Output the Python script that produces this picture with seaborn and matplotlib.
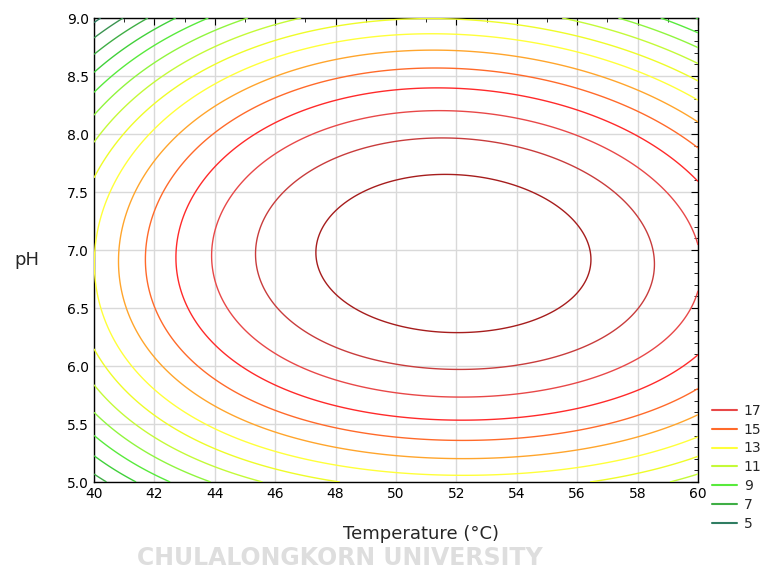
import numpy as np
import matplotlib
matplotlib.use("Agg")
import matplotlib.pyplot as plt
import seaborn as sns
from matplotlib.lines import Line2D
from matplotlib.ticker import MultipleLocator, FormatStrFormatter

# fitted response surface, coded units u = (T - 50) / 10, v = (pH - 7) / 2
terms = ["1", "u", "v", "u2", "uv", "v2", "u3", "u2v", "uv2", "v3", "u4", "v4"]
coefs = [19.7300, 1.5617, -0.1541, -4.3436, -0.1830, -7.4842,
         0.4718, -0.8521, -0.2261, -0.1029, -0.3907, -0.0947]

temp_range = [40, 60]
ph_range = [5, 9]
contour_levels = list(range(5, 20))
legend_levels = [17, 15, 13, 11, 9, 7, 5]

line_colors = ["#2f7d62", "#3a9350", "#3fae45", "#40d03a", "#58ea3c", "#90f53e", "#c4fa38",
               "#eefc28", "#ffff3a", "#ffa52c", "#ff6a2a", "#ff2a2a", "#e84848", "#c83c3c", "#a61d1d"]


def response(t, p):
    u = (t - 50) / 10
    v = (p - 7) / 2
    cols = {"1": np.ones_like(u), "u": u, "v": v, "u2": u ** 2, "uv": u * v, "v2": v ** 2,
            "u3": u ** 3, "u2v": u ** 2 * v, "uv2": u * v ** 2, "v3": v ** 3,
            "u4": u ** 4, "v4": v ** 4}
    return sum(c * cols[n] for n, c in zip(terms, coefs))


temp = np.linspace(temp_range[0], temp_range[1], 201)
ph = np.linspace(ph_range[0], ph_range[1], 201)
TT, PP = np.meshgrid(temp, ph)
ZZ = response(TT, PP)

sns.set_style("white")
plt.rcParams["font.family"] = ["DejaVu Sans"]

fig = plt.figure(figsize=(7.63, 5.71), dpi=100)
ax = fig.add_axes([94 / 763, 1 - 482 / 571, 604 / 763, 464 / 571])

ax.contour(TT, PP, ZZ, levels=contour_levels, colors=line_colors, linewidths=1.0, zorder=3)

ax.set_xlim(*temp_range)
ax.set_ylim(*ph_range)
ax.xaxis.set_major_locator(MultipleLocator(2))
ax.xaxis.set_minor_locator(MultipleLocator(1))
ax.yaxis.set_major_locator(MultipleLocator(0.5))
ax.yaxis.set_minor_locator(MultipleLocator(0.1))
ax.yaxis.set_major_formatter(FormatStrFormatter("%.1f"))
ax.grid(True, which="major", color="#d9d9d9", linewidth=1.0, zorder=0)
ax.tick_params(which="both", direction="in", top=True, right=True, labelsize=10, colors="black")
ax.tick_params(which="major", length=5)
ax.tick_params(which="minor", length=3)
for s in ax.spines.values():
    s.set_color("black")
    s.set_linewidth(1.0)

ax.set_xlabel("Temperature (°C)", fontsize=13)
ax.set_ylabel("pH", fontsize=13, rotation=0, va="center", ha="center")
ax.xaxis.set_label_coords(0.541, -0.093)
ax.yaxis.set_label_coords(-0.111, 0.478)

handles = [Line2D([], [], color=line_colors[contour_levels.index(l)], linewidth=1.5) for l in legend_levels]
fig.legend(handles, [str(l) for l in legend_levels], loc="upper left",
           bbox_to_anchor=(0.933, 0.293), frameon=False, fontsize=10,
           handlelength=1.8, handletextpad=0.5, labelspacing=0.35, borderpad=0, borderaxespad=0)

# faded watermark along the bottom edge
fig.text(0.446, 1 / 571, "CHULALONGKORN UNIVERSITY", ha="center", va="bottom",
         fontsize=17, fontweight="bold", color="#dedede", zorder=0)

fig.savefig("out.png", dpi=100)
